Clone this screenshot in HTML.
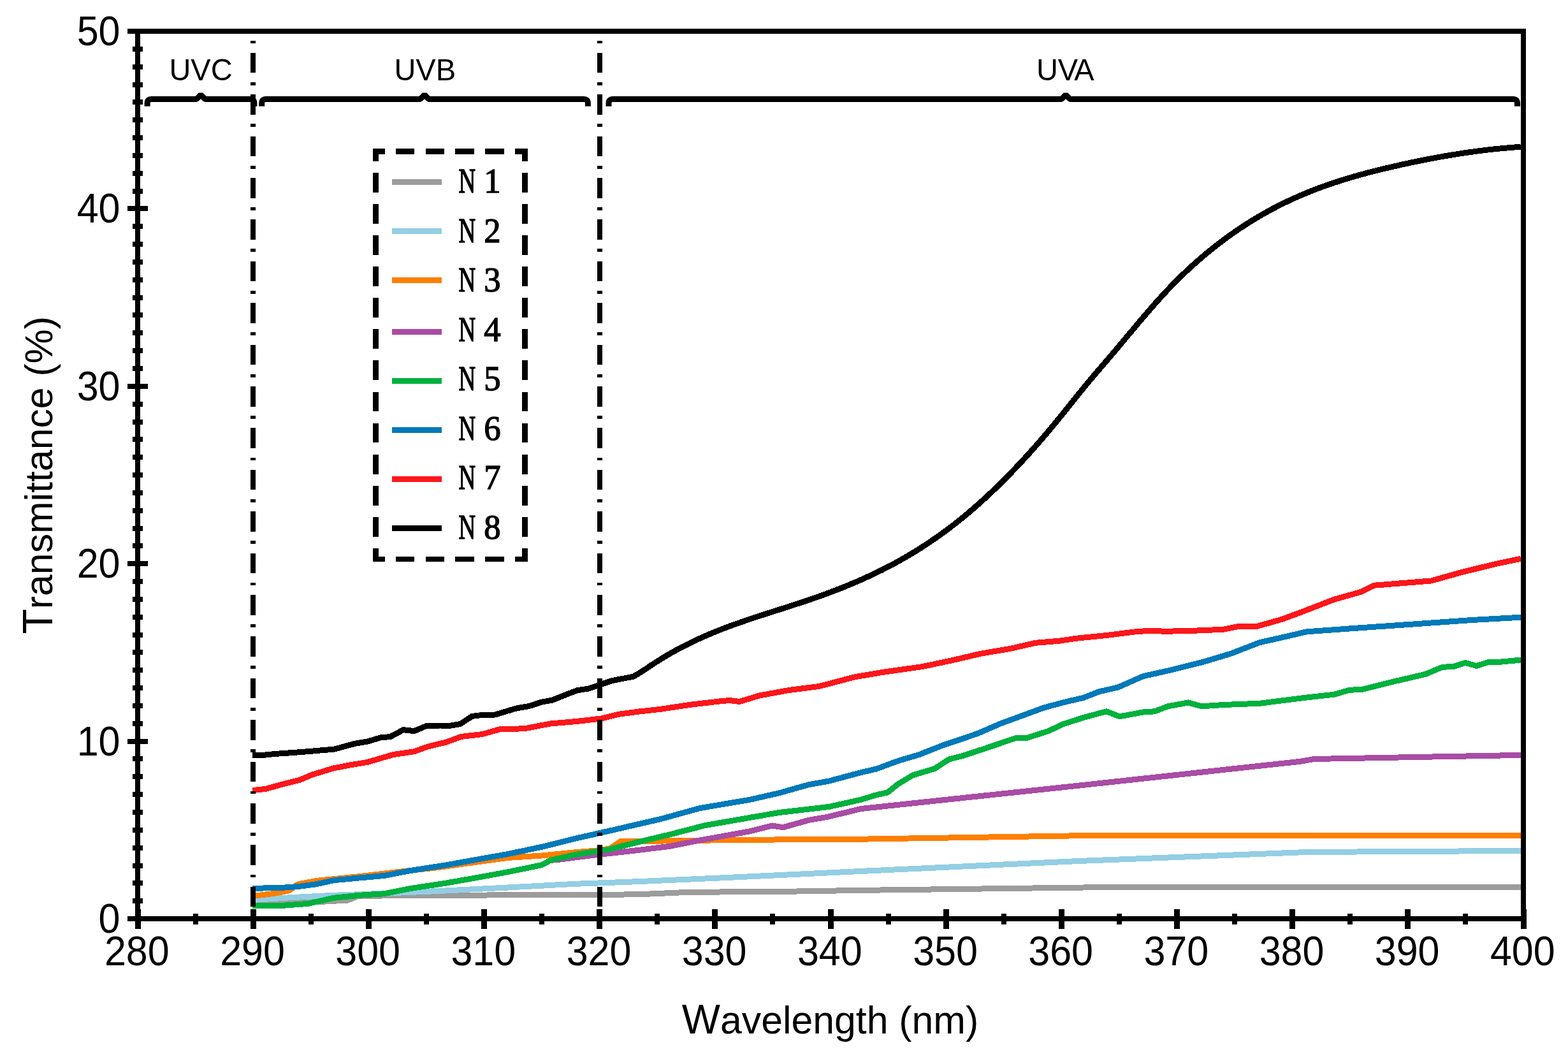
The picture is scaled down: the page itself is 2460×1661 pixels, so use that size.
<!DOCTYPE html>
<html><head><meta charset="utf-8"><title>Transmittance vs Wavelength</title>
<style>html,body{margin:0;padding:0;background:#fff;}body{width:2460px;height:1661px;overflow:hidden;}svg{display:block;}.sans{font-family:"Liberation Sans",Arial,Helvetica,sans-serif;}.serif{font-family:"Liberation Serif","Times New Roman",serif;}</style>
</head><body>
<svg width="2460" height="1661" viewBox="0 0 2460 1661">
<rect x="0" y="0" width="2460" height="1661" fill="#fff"/>
<g fill="none" stroke-linejoin="round" stroke-linecap="butt" stroke-width="9.0" shape-rendering="crispEdges">
<polyline stroke="#9c9c9c" points="396.0,1417.5 445.0,1417.0 510.0,1414.0 546.0,1412.0 560.0,1406.0 600.0,1405.0 720.0,1404.8 796.7,1403.4 903.4,1403.4 1000.0,1402.9 1083.0,1399.2 1206.9,1398.7 1350.0,1396.4 1700.0,1392.0 2050.0,1391.2 2386.0,1391.2"/>
<polyline stroke="#93cee4" points="396.0,1411.5 436.0,1409.0 456.0,1407.7 523.0,1404.3 590.0,1401.7 690.0,1397.4 796.7,1392.0 903.4,1386.3 1000.0,1382.7 1144.9,1376.3 1350.0,1366.5 1690.0,1350.6 2050.0,1336.5 2386.0,1334.4"/>
<polyline stroke="#ff7f00" points="396.0,1405.4 430.0,1401.4 454.0,1396.7 464.0,1389.0 470.0,1386.3 496.7,1381.4 523.4,1378.7 563.4,1374.7 603.4,1370.0 643.4,1365.4 690.0,1360.3 743.4,1352.7 796.7,1345.4 850.0,1342.0 903.4,1336.7 943.4,1333.4 956.8,1330.7 974.0,1319.6 1000.0,1319.6 1098.4,1318.2 1183.6,1317.2 1299.8,1316.5 1350.0,1316.2 1690.0,1310.8 2050.0,1310.3 2386.0,1310.8"/>
<polyline stroke="#a94ca5" points="396.0,1421.0 443.4,1420.3 483.4,1417.4 523.4,1408.3 563.4,1404.3 603.4,1401.7 643.4,1393.6 696.8,1385.6 743.4,1377.4 796.7,1367.7 850.0,1356.7 863.4,1349.4 876.7,1348.3 930.0,1341.4 1000.0,1333.6 1052.0,1327.2 1098.4,1317.9 1175.9,1303.9 1211.5,1295.0 1228.5,1297.7 1268.8,1286.4 1299.8,1281.0 1350.0,1268.6 1690.0,1232.4 2040.0,1194.3 2061.5,1190.5 2386.0,1184.4"/>
<polyline stroke="#00b13d" points="396.0,1421.0 443.4,1420.3 483.4,1417.4 523.4,1408.3 563.4,1404.3 603.4,1401.7 643.4,1393.6 696.8,1385.6 743.4,1377.4 796.7,1367.7 850.0,1356.7 863.4,1349.4 903.4,1340.3 956.8,1332.0 1000.0,1321.0 1052.0,1308.6 1106.2,1294.6 1175.9,1282.5 1222.4,1274.5 1299.8,1265.5 1350.0,1254.4 1374.4,1247.0 1392.8,1242.9 1408.8,1229.8 1431.8,1216.0 1466.2,1205.7 1489.1,1190.8 1512.1,1185.0 1546.5,1173.6 1592.4,1158.0 1610.7,1157.5 1645.2,1146.5 1668.1,1135.7 1700.0,1125.4 1735.9,1115.8 1756.5,1123.8 1793.3,1117.0 1811.6,1115.8 1832.3,1107.8 1864.4,1102.0 1885.0,1107.8 1919.5,1105.5 1976.8,1103.2 2050.0,1094.0 2093.5,1089.2 2116.7,1082.4 2138.2,1081.1 2182.8,1069.9 2236.3,1057.4 2263.1,1046.3 2281.0,1045.4 2298.8,1039.5 2316.6,1044.5 2334.5,1038.7 2352.3,1038.3 2386.0,1035.1"/>
<polyline stroke="#0079b9" points="396.0,1393.4 443.4,1392.3 470.0,1390.3 496.7,1386.7 523.4,1380.7 563.4,1377.0 603.4,1373.4 643.4,1365.6 696.8,1357.4 743.4,1349.0 796.7,1339.6 850.0,1328.3 903.4,1315.0 956.8,1303.0 1000.0,1293.0 1036.5,1284.6 1098.4,1267.5 1175.9,1254.4 1222.4,1243.8 1268.8,1230.7 1299.8,1225.2 1350.0,1211.8 1374.4,1206.2 1408.8,1193.5 1443.3,1183.2 1477.7,1169.5 1512.1,1158.0 1535.0,1150.0 1569.5,1135.0 1603.9,1122.4 1638.3,1109.8 1672.7,1100.6 1700.0,1094.4 1724.4,1084.8 1754.2,1078.0 1793.3,1060.7 1839.2,1050.4 1885.0,1039.0 1931.0,1025.2 1976.8,1007.5 2011.2,999.9 2050.0,990.8 2129.2,985.1 2218.5,978.9 2307.7,972.6 2386.0,968.2"/>
<polyline stroke="#fd171b" points="396.0,1239.7 416.7,1237.4 443.4,1230.0 470.0,1223.4 490.0,1215.0 523.4,1204.9 550.0,1199.8 576.7,1195.4 616.8,1183.6 650.0,1178.7 670.0,1171.4 690.0,1166.3 699.5,1164.3 723.4,1155.4 756.7,1151.6 783.4,1144.0 823.4,1142.7 863.4,1135.0 903.4,1131.6 943.4,1127.0 970.0,1120.3 990.0,1117.7 1000.0,1116.3 1036.5,1112.3 1083.0,1105.3 1129.4,1099.9 1145.0,1098.5 1160.0,1100.5 1175.0,1096.0 1191.4,1091.0 1237.8,1082.5 1284.3,1076.6 1315.3,1068.6 1340.0,1062.0 1385.9,1054.2 1447.0,1045.6 1492.9,1035.9 1538.8,1025.2 1584.7,1017.5 1624.5,1008.3 1661.2,1005.3 1690.0,1001.1 1735.9,996.5 1781.8,990.8 1804.7,989.2 1827.7,990.3 1873.6,989.2 1919.5,987.3 1942.4,982.7 1972.2,982.3 2011.2,971.3 2040.0,960.7 2093.5,940.1 2136.4,928.0 2156.0,918.2 2200.6,914.6 2245.2,911.0 2289.9,898.5 2343.4,885.2 2386.0,876.2"/>
<polyline stroke="#000000" points="396.0,1185.0 416.7,1184.0 430.0,1182.6 456.7,1180.7 483.4,1178.7 510.0,1176.3 523.4,1175.4 556.7,1166.3 576.7,1163.0 596.7,1157.0 612.8,1155.4 632.8,1144.7 650.0,1146.6 668.8,1138.6 690.0,1138.0 706.0,1138.3 722.0,1135.6 740.7,1123.4 756.7,1121.4 776.7,1121.0 810.0,1111.0 830.0,1107.6 850.0,1101.0 866.0,1098.3 890.0,1088.7 906.0,1082.7 923.4,1080.0 943.4,1073.3 960.0,1067.7 993.3,1061.2 997.3,1059.1 1001.3,1056.8 1005.3,1054.3 1009.3,1051.7 1013.3,1049.1 1017.3,1046.4 1021.3,1043.7 1025.3,1041.1 1029.3,1038.5 1033.3,1036.0 1037.3,1033.5 1041.3,1031.0 1045.3,1028.6 1049.3,1026.3 1053.3,1024.0 1057.3,1021.7 1061.3,1019.5 1065.3,1017.4 1069.3,1015.3 1073.3,1013.2 1077.3,1011.2 1081.3,1009.2 1085.3,1007.2 1089.3,1005.3 1093.3,1003.4 1097.3,1001.6 1101.3,999.8 1105.3,998.0 1109.3,996.3 1113.3,994.6 1117.3,992.9 1121.3,991.3 1125.3,989.7 1129.3,988.1 1133.3,986.5 1137.3,985.0 1141.3,983.5 1145.3,982.0 1149.3,980.5 1153.3,979.1 1157.3,977.7 1161.3,976.3 1165.3,974.9 1169.3,973.5 1173.3,972.1 1177.3,970.8 1181.3,969.5 1185.3,968.1 1189.3,966.8 1193.3,965.5 1197.3,964.2 1201.3,962.9 1205.3,961.6 1209.3,960.4 1213.3,959.1 1217.3,957.8 1221.3,956.5 1225.3,955.3 1229.3,954.0 1233.3,952.7 1237.3,951.4 1241.3,950.1 1245.3,948.8 1249.3,947.5 1253.3,946.2 1257.3,944.9 1261.3,943.6 1265.3,942.2 1269.3,940.9 1273.3,939.5 1277.3,938.1 1281.3,936.7 1285.3,935.3 1289.3,933.9 1293.3,932.4 1297.3,931.0 1301.3,929.5 1305.3,928.0 1309.3,926.5 1313.3,924.9 1317.3,923.4 1321.3,921.8 1325.3,920.2 1329.3,918.5 1333.3,916.9 1337.3,915.2 1341.3,913.5 1345.3,911.8 1349.3,910.0 1353.3,908.3 1357.3,906.5 1361.3,904.6 1365.3,902.8 1369.3,900.9 1373.3,899.0 1377.3,897.0 1381.3,895.1 1385.3,893.1 1389.3,891.0 1393.3,889.0 1397.3,886.9 1401.3,884.7 1405.3,882.6 1409.3,880.4 1413.3,878.1 1417.3,875.9 1421.3,873.6 1425.3,871.2 1429.3,868.9 1433.3,866.4 1437.3,864.0 1441.3,861.5 1445.3,859.0 1449.3,856.4 1453.3,853.8 1457.3,851.1 1461.3,848.4 1465.3,845.7 1469.3,842.9 1473.3,840.1 1477.3,837.2 1481.3,834.3 1485.3,831.4 1489.3,828.4 1493.3,825.3 1497.3,822.3 1501.3,819.1 1505.3,815.9 1509.3,812.7 1513.3,809.4 1517.3,806.1 1521.3,802.7 1525.3,799.3 1529.3,795.8 1533.3,792.3 1537.3,788.7 1541.3,785.1 1545.3,781.5 1549.3,777.8 1553.3,774.0 1557.3,770.3 1561.3,766.4 1565.3,762.5 1569.3,758.6 1573.3,754.7 1577.3,750.6 1581.3,746.6 1585.3,742.5 1589.3,738.3 1593.3,734.2 1597.3,729.9 1601.3,725.7 1605.3,721.3 1609.3,717.0 1613.3,712.6 1617.3,708.1 1621.3,703.6 1625.3,699.1 1629.3,694.6 1633.3,689.9 1637.3,685.3 1641.3,680.6 1645.3,675.9 1649.3,671.1 1653.3,666.3 1657.3,661.4 1661.3,656.5 1665.3,651.6 1669.3,646.6 1673.3,641.6 1677.3,636.6 1681.3,631.6 1685.3,626.6 1689.3,621.7 1693.3,616.7 1697.3,611.8 1701.3,606.9 1705.3,602.1 1709.3,597.3 1713.3,592.6 1717.3,587.8 1721.3,583.1 1725.3,578.5 1729.3,573.8 1733.3,569.1 1737.3,564.5 1741.3,559.8 1745.3,555.1 1749.3,550.4 1753.3,545.6 1757.3,540.9 1761.3,536.1 1765.3,531.3 1769.3,526.5 1773.3,521.8 1777.3,517.0 1781.3,512.2 1785.3,507.5 1789.3,502.7 1793.3,498.0 1797.3,493.4 1801.3,488.7 1805.3,484.1 1809.3,479.5 1813.3,475.0 1817.3,470.5 1821.3,466.1 1825.3,461.7 1829.3,457.4 1833.3,453.2 1837.3,449.0 1841.3,444.9 1845.3,440.8 1849.3,436.9 1853.3,432.9 1857.3,429.1 1861.3,425.3 1865.3,421.6 1869.3,417.9 1873.3,414.3 1877.3,410.7 1881.3,407.2 1885.3,403.8 1889.3,400.4 1893.3,397.0 1897.3,393.8 1901.3,390.5 1905.3,387.4 1909.3,384.2 1913.3,381.1 1917.3,378.1 1921.3,375.1 1925.3,372.2 1929.3,369.3 1933.3,366.5 1937.3,363.7 1941.3,360.9 1945.3,358.2 1949.3,355.6 1953.3,353.0 1957.3,350.4 1961.3,347.9 1965.3,345.4 1969.3,343.0 1973.3,340.6 1977.3,338.3 1981.3,335.9 1985.3,333.7 1989.3,331.5 1993.3,329.3 1997.3,327.1 2001.3,325.1 2005.3,323.0 2009.3,321.0 2013.3,319.0 2017.3,317.1 2021.3,315.1 2025.3,313.3 2029.3,311.4 2033.3,309.7 2037.3,307.9 2041.3,306.2 2045.3,304.5 2049.3,302.8 2053.3,301.2 2057.3,299.6 2061.3,298.0 2065.3,296.5 2069.3,295.0 2073.3,293.5 2077.3,292.0 2081.3,290.6 2085.3,289.2 2089.3,287.9 2093.3,286.5 2097.3,285.2 2101.3,283.9 2105.3,282.6 2109.3,281.4 2113.3,280.2 2117.3,279.0 2121.3,277.8 2125.3,276.6 2129.3,275.5 2133.3,274.4 2137.3,273.3 2141.3,272.2 2145.3,271.1 2149.3,270.1 2153.3,269.0 2157.3,268.0 2161.3,267.0 2165.3,266.0 2169.3,265.1 2173.3,264.1 2177.3,263.2 2181.3,262.2 2185.3,261.3 2189.3,260.4 2193.3,259.5 2197.3,258.6 2201.3,257.7 2205.3,256.8 2209.3,256.0 2213.3,255.1 2217.3,254.3 2221.3,253.5 2225.3,252.6 2229.3,251.8 2233.3,251.0 2237.3,250.2 2241.3,249.5 2245.3,248.7 2249.3,248.0 2253.3,247.2 2257.3,246.5 2261.3,245.8 2265.3,245.1 2269.3,244.4 2273.3,243.7 2277.3,243.0 2281.3,242.4 2285.3,241.8 2289.3,241.1 2293.3,240.5 2297.3,239.9 2301.3,239.3 2305.3,238.8 2309.3,238.2 2313.3,237.7 2317.3,237.1 2321.3,236.6 2325.3,236.1 2329.3,235.6 2333.3,235.1 2337.3,234.7 2341.3,234.2 2345.3,233.8 2349.3,233.4 2353.3,233.0 2357.3,232.6 2361.3,232.2 2365.3,231.9 2369.3,231.5 2373.3,231.2 2377.3,230.9 2381.3,230.6 2385.3,230.4 2386.0,230.3"/>
</g>
<line x1="397.0" y1="53" x2="397.0" y2="1437" stroke="#000" stroke-width="8" stroke-dasharray="31.6 14.5 4.8 14.5" stroke-dashoffset="35.6" shape-rendering="crispEdges"/>
<line x1="941.0" y1="53" x2="941.0" y2="1437" stroke="#000" stroke-width="8" stroke-dasharray="31.6 14.5 4.8 14.5" stroke-dashoffset="35.6" shape-rendering="crispEdges"/>
<g fill="#000" shape-rendering="crispEdges">
<rect x="212" y="45" width="8" height="1412"/>
<rect x="212" y="45" width="2182" height="8"/>
<rect x="2386" y="45" width="8" height="1412"/>
<rect x="200" y="1437" width="2194" height="8"/>
<rect x="200" y="1437.0" width="32" height="8"/>
<rect x="208" y="1409.2" width="16" height="8"/>
<rect x="208" y="1381.3" width="16" height="8"/>
<rect x="208" y="1353.5" width="16" height="8"/>
<rect x="208" y="1325.6" width="16" height="8"/>
<rect x="208" y="1297.8" width="16" height="8"/>
<rect x="208" y="1270.0" width="16" height="8"/>
<rect x="208" y="1242.1" width="16" height="8"/>
<rect x="208" y="1214.3" width="16" height="8"/>
<rect x="208" y="1186.4" width="16" height="8"/>
<rect x="200" y="1158.6" width="32" height="8"/>
<rect x="208" y="1130.8" width="16" height="8"/>
<rect x="208" y="1102.9" width="16" height="8"/>
<rect x="208" y="1075.1" width="16" height="8"/>
<rect x="208" y="1047.2" width="16" height="8"/>
<rect x="208" y="1019.4" width="16" height="8"/>
<rect x="208" y="991.6" width="16" height="8"/>
<rect x="208" y="963.7" width="16" height="8"/>
<rect x="208" y="935.9" width="16" height="8"/>
<rect x="208" y="908.0" width="16" height="8"/>
<rect x="200" y="880.2" width="32" height="8"/>
<rect x="208" y="852.4" width="16" height="8"/>
<rect x="208" y="824.5" width="16" height="8"/>
<rect x="208" y="796.7" width="16" height="8"/>
<rect x="208" y="768.8" width="16" height="8"/>
<rect x="208" y="741.0" width="16" height="8"/>
<rect x="208" y="713.2" width="16" height="8"/>
<rect x="208" y="685.3" width="16" height="8"/>
<rect x="208" y="657.5" width="16" height="8"/>
<rect x="208" y="629.6" width="16" height="8"/>
<rect x="200" y="601.8" width="32" height="8"/>
<rect x="208" y="574.0" width="16" height="8"/>
<rect x="208" y="546.1" width="16" height="8"/>
<rect x="208" y="518.3" width="16" height="8"/>
<rect x="208" y="490.4" width="16" height="8"/>
<rect x="208" y="462.6" width="16" height="8"/>
<rect x="208" y="434.8" width="16" height="8"/>
<rect x="208" y="406.9" width="16" height="8"/>
<rect x="208" y="379.1" width="16" height="8"/>
<rect x="208" y="351.2" width="16" height="8"/>
<rect x="200" y="323.4" width="32" height="8"/>
<rect x="208" y="295.6" width="16" height="8"/>
<rect x="208" y="267.7" width="16" height="8"/>
<rect x="208" y="239.9" width="16" height="8"/>
<rect x="208" y="212.0" width="16" height="8"/>
<rect x="208" y="184.2" width="16" height="8"/>
<rect x="208" y="156.4" width="16" height="8"/>
<rect x="208" y="128.5" width="16" height="8"/>
<rect x="208" y="100.7" width="16" height="8"/>
<rect x="208" y="72.8" width="16" height="8"/>
<rect x="200" y="45.0" width="32" height="8"/>
<rect x="211.5" y="1426" width="9" height="31"/>
<rect x="302.6" y="1433" width="8" height="17"/>
<rect x="392.7" y="1426" width="9" height="31"/>
<rect x="483.8" y="1433" width="8" height="17"/>
<rect x="573.8" y="1426" width="9" height="31"/>
<rect x="664.9" y="1433" width="8" height="17"/>
<rect x="755.0" y="1426" width="9" height="31"/>
<rect x="846.1" y="1433" width="8" height="17"/>
<rect x="936.2" y="1426" width="9" height="31"/>
<rect x="1027.2" y="1433" width="8" height="17"/>
<rect x="1117.3" y="1426" width="9" height="31"/>
<rect x="1208.4" y="1433" width="8" height="17"/>
<rect x="1298.5" y="1426" width="9" height="31"/>
<rect x="1389.6" y="1433" width="8" height="17"/>
<rect x="1479.7" y="1426" width="9" height="31"/>
<rect x="1570.8" y="1433" width="8" height="17"/>
<rect x="1660.8" y="1426" width="9" height="31"/>
<rect x="1751.9" y="1433" width="8" height="17"/>
<rect x="1842.0" y="1426" width="9" height="31"/>
<rect x="1933.1" y="1433" width="8" height="17"/>
<rect x="2023.2" y="1426" width="9" height="31"/>
<rect x="2114.2" y="1433" width="8" height="17"/>
<rect x="2204.3" y="1426" width="9" height="31"/>
<rect x="2295.4" y="1433" width="8" height="17"/>
<rect x="2385.5" y="1426" width="9" height="31"/>
</g>
<g class="sans" font-size="61" fill="#000">
<text transform="translate(188.5,1463.0) scale(1,1.072)" text-anchor="end">0</text>
<text transform="translate(188.5,1184.6) scale(1,1.072)" text-anchor="end">10</text>
<text transform="translate(188.5,906.2) scale(1,1.072)" text-anchor="end">20</text>
<text transform="translate(188.5,627.8) scale(1,1.072)" text-anchor="end">30</text>
<text transform="translate(188.5,349.4) scale(1,1.072)" text-anchor="end">40</text>
<text transform="translate(188.5,71.0) scale(1,1.072)" text-anchor="end">50</text>
<text transform="translate(214.8,1513.8) scale(1,1.072)" text-anchor="middle">280</text>
<text transform="translate(396.0,1513.8) scale(1,1.072)" text-anchor="middle">290</text>
<text transform="translate(577.1,1513.8) scale(1,1.072)" text-anchor="middle">300</text>
<text transform="translate(758.3,1513.8) scale(1,1.072)" text-anchor="middle">310</text>
<text transform="translate(939.5,1513.8) scale(1,1.072)" text-anchor="middle">320</text>
<text transform="translate(1120.6,1513.8) scale(1,1.072)" text-anchor="middle">330</text>
<text transform="translate(1301.8,1513.8) scale(1,1.072)" text-anchor="middle">340</text>
<text transform="translate(1483.0,1513.8) scale(1,1.072)" text-anchor="middle">350</text>
<text transform="translate(1664.1,1513.8) scale(1,1.072)" text-anchor="middle">360</text>
<text transform="translate(1845.3,1513.8) scale(1,1.072)" text-anchor="middle">370</text>
<text transform="translate(2026.5,1513.8) scale(1,1.072)" text-anchor="middle">380</text>
<text transform="translate(2207.6,1513.8) scale(1,1.072)" text-anchor="middle">390</text>
<text transform="translate(2388.8,1513.8) scale(1,1.072)" text-anchor="middle">400</text>
</g>
<text class="sans" font-size="60.75" transform="translate(1302.5,1621) scale(1,1.01)" text-anchor="middle"><tspan font-size="63.8">W</tspan>avelength (nm)</text>
<text class="sans" font-size="60.75" transform="translate(81.8,745.3) rotate(-90) scale(1,1.02)" text-anchor="middle"><tspan font-size="64.5">T</tspan>ransmittance (%)</text>
<path d="M231.1,166.8 L231.1,162.0 Q231.1,155.4 237.7,155.4 L308.5,155.4 L315.0,148.5 L321.5,155.4 L392.3,155.4 Q398.9,155.4 398.9,162.0 L398.9,166.8" fill="none" stroke="#000" stroke-width="9" stroke-linejoin="bevel"/>
<path d="M410.7,166.8 L410.7,162.0 Q410.7,155.4 417.3,155.4 L659.5,155.4 L666.0,148.5 L672.5,155.4 L915.8,155.4 Q922.4,155.4 922.4,162.0 L922.4,166.8" fill="none" stroke="#000" stroke-width="9" stroke-linejoin="bevel"/>
<path d="M955.0,166.8 L955.0,162.0 Q955.0,155.4 961.6,155.4 L1665.5,155.4 L1672.0,148.5 L1678.5,155.4 L2373.9,155.4 Q2380.5,155.4 2380.5,162.0 L2380.5,166.8" fill="none" stroke="#000" stroke-width="9" stroke-linejoin="bevel"/>
<g class="sans" font-size="47" text-anchor="middle">
<text transform="translate(315,126.2) scale(1,1.015)">UVC</text>
<text transform="translate(666.7,126.2) scale(1,1.015)">UVB</text>
<text transform="translate(1671.2,126.2) scale(1,1.015)">UV<tspan dx="-6">A</tspan></text>
</g>
<g stroke="#000" stroke-width="8.6" fill="none" shape-rendering="crispEdges">
<line x1="585" y1="237.5" x2="828" y2="237.5" stroke-dasharray="29.6 17.2" stroke-dashoffset="11"/>
<line x1="585" y1="877.0" x2="828" y2="877.0" stroke-dasharray="29.6 17.2" stroke-dashoffset="11"/>
<line x1="589.5" y1="233" x2="589.5" y2="881" stroke-dasharray="30.8 18.3" stroke-dashoffset="11.3"/>
<line x1="823.5" y1="233" x2="823.5" y2="881" stroke-dasharray="30.8 18.3" stroke-dashoffset="11.3"/>
</g>
<rect x="615" y="281" width="78" height="9" fill="#9c9c9c" shape-rendering="crispEdges"/>
<text class="serif" font-size="55.5" stroke="#000" stroke-width="1.6" transform="translate(719.5,302.3) scale(0.664,1)">N</text>
<text class="serif" font-size="55.5" stroke="#000" stroke-width="1.4" text-anchor="middle" transform="translate(772.5,302.3) scale(0.95,1)">1</text>
<rect x="615" y="358" width="78" height="9" fill="#93cee4" shape-rendering="crispEdges"/>
<text class="serif" font-size="55.5" stroke="#000" stroke-width="1.6" transform="translate(719.5,379.8) scale(0.664,1)">N</text>
<text class="serif" font-size="55.5" stroke="#000" stroke-width="1.4" text-anchor="middle" transform="translate(772.5,379.8) scale(0.95,1)">2</text>
<rect x="615" y="435" width="78" height="9" fill="#ff7f00" shape-rendering="crispEdges"/>
<text class="serif" font-size="55.5" stroke="#000" stroke-width="1.6" transform="translate(719.5,457.3) scale(0.664,1)">N</text>
<text class="serif" font-size="55.5" stroke="#000" stroke-width="1.4" text-anchor="middle" transform="translate(772.5,457.3) scale(0.95,1)">3</text>
<rect x="615" y="516" width="78" height="9" fill="#a94ca5" shape-rendering="crispEdges"/>
<text class="serif" font-size="55.5" stroke="#000" stroke-width="1.6" transform="translate(719.5,534.8) scale(0.664,1)">N</text>
<text class="serif" font-size="55.5" stroke="#000" stroke-width="1.4" text-anchor="middle" transform="translate(772.5,534.8) scale(0.95,1)">4</text>
<rect x="615" y="593" width="78" height="9" fill="#00b13d" shape-rendering="crispEdges"/>
<text class="serif" font-size="55.5" stroke="#000" stroke-width="1.6" transform="translate(719.5,612.3) scale(0.664,1)">N</text>
<text class="serif" font-size="55.5" stroke="#000" stroke-width="1.4" text-anchor="middle" transform="translate(772.5,612.3) scale(0.95,1)">5</text>
<rect x="615" y="670" width="78" height="9" fill="#0079b9" shape-rendering="crispEdges"/>
<text class="serif" font-size="55.5" stroke="#000" stroke-width="1.6" transform="translate(719.5,689.8) scale(0.664,1)">N</text>
<text class="serif" font-size="55.5" stroke="#000" stroke-width="1.4" text-anchor="middle" transform="translate(772.5,689.8) scale(0.95,1)">6</text>
<rect x="615" y="747" width="78" height="9" fill="#fd171b" shape-rendering="crispEdges"/>
<text class="serif" font-size="55.5" stroke="#000" stroke-width="1.6" transform="translate(719.5,767.3) scale(0.664,1)">N</text>
<text class="serif" font-size="55.5" stroke="#000" stroke-width="1.4" text-anchor="middle" transform="translate(772.5,767.3) scale(0.95,1)">7</text>
<rect x="615" y="824" width="78" height="9" fill="#000000" shape-rendering="crispEdges"/>
<text class="serif" font-size="55.5" stroke="#000" stroke-width="1.6" transform="translate(719.5,844.8) scale(0.664,1)">N</text>
<text class="serif" font-size="55.5" stroke="#000" stroke-width="1.4" text-anchor="middle" transform="translate(772.5,844.8) scale(0.95,1)">8</text>
</svg>
</body></html>
